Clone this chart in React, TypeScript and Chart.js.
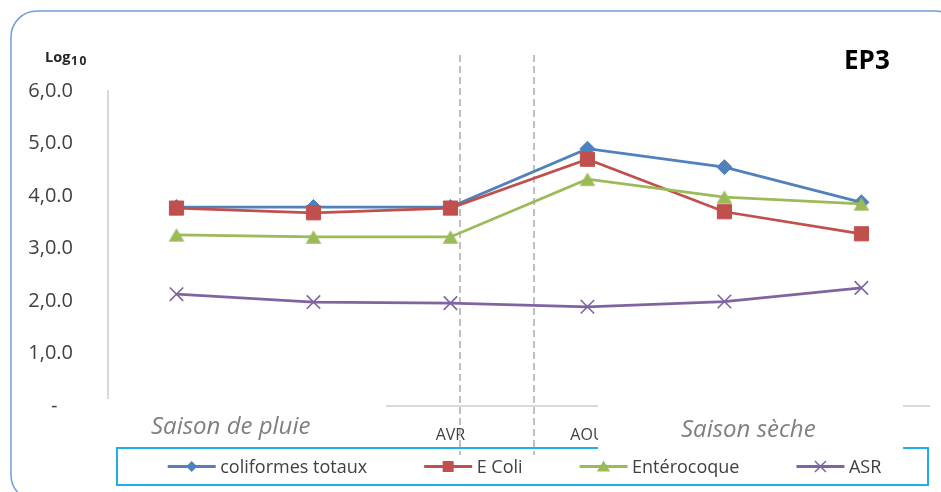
import React, { useEffect, useRef } from 'react';
import { Chart, registerables } from 'chart.js';

Chart.register(...registerables);

// Sampling campaigns (only two of the labels are printed on the axis)
const categories = ['', '', 'AVR', 'AOU', '', ''];

// Log10 counts per indicator
const coliformesTotaux = [3.79, 3.79, 3.79, 4.9, 4.55, 3.88];
const eColi = [3.77, 3.68, 3.77, 4.7, 3.7, 3.28];
const enterocoque = [3.26, 3.22, 3.22, 4.32, 3.98, 3.85];
const asr = [2.13, 1.98, 1.96, 1.89, 1.99, 2.25];

const seriesNames = ['coliformes totaux', 'E Coli', 'Entérocoque', 'ASR'];
const seriesColors = ['#4F81BD', '#C0504D', '#9BBB59', '#8064A2'];
const markerStyles = ['rectRot', 'rect', 'triangle', 'crossRot'];

const seasonLabels = ['Saison de pluie', 'Saison sèche'];
const stationTitle = 'EP3';
const unitLabel = 'Log';
const unitSubscript = '10';

const FONT = "'Open Sans', 'DejaVu Sans', sans-serif";

function drawMarker(
  ctx: CanvasRenderingContext2D,
  style: string,
  x: number,
  y: number,
  color: string,
  s: number
) {
  ctx.save();
  ctx.fillStyle = color;
  ctx.strokeStyle = color;
  ctx.beginPath();
  if (style === 'rectRot') {
    ctx.moveTo(x, y - s);
    ctx.lineTo(x + s, y);
    ctx.lineTo(x, y + s);
    ctx.lineTo(x - s, y);
    ctx.closePath();
    ctx.fill();
  } else if (style === 'rect') {
    ctx.rect(x - s, y - s, 2 * s, 2 * s);
    ctx.fill();
  } else if (style === 'triangle') {
    ctx.moveTo(x, y - s);
    ctx.lineTo(x + s * 1.1, y + s * 0.85);
    ctx.lineTo(x - s * 1.1, y + s * 0.85);
    ctx.closePath();
    ctx.fill();
  } else {
    ctx.lineWidth = 1.5;
    ctx.moveTo(x - s, y - s);
    ctx.lineTo(x + s, y + s);
    ctx.moveTo(x + s, y - s);
    ctx.lineTo(x - s, y + s);
    ctx.stroke();
  }
  ctx.restore();
}

// Triangle marker centred on its bounding box
function makeTriangle(color: string): HTMLCanvasElement {
  const c = document.createElement('canvas');
  c.width = 18;
  c.height = 16;
  const g = c.getContext('2d')!;
  g.fillStyle = color;
  g.beginPath();
  g.moveTo(9, 1.2);
  g.lineTo(16.8, 14.8);
  g.lineTo(1.2, 14.8);
  g.closePath();
  g.fill();
  return c;
}

const decorPlugin = {
  id: 'decor',
  beforeDraw(chart: any) {
    const ctx: CanvasRenderingContext2D = chart.ctx;
    ctx.save();
    ctx.fillStyle = '#FFFFFF';
    ctx.fillRect(0, 0, chart.width, chart.height);
    // rounded outer frame
    ctx.strokeStyle = '#6F9FDB';
    ctx.lineWidth = 1.5;
    ctx.beginPath();
    (ctx as any).roundRect(11, 11, 950, 490, 26);
    ctx.stroke();
    ctx.restore();
  },
  beforeDatasetsDraw(chart: any) {
    const ctx: CanvasRenderingContext2D = chart.ctx;
    ctx.save();
    ctx.strokeStyle = '#BFBFBF';
    ctx.lineWidth = 2;
    ctx.setLineDash([7, 4]);
    for (const x of [460, 534]) {
      ctx.beginPath();
      ctx.moveTo(x, 55);
      ctx.lineTo(x, 455);
      ctx.stroke();
    }
    ctx.restore();
  },
  afterDraw(chart: any) {
    const ctx: CanvasRenderingContext2D = chart.ctx;
    ctx.save();

    // legend frame
    ctx.strokeStyle = '#1FB0EA';
    ctx.lineWidth = 2;
    ctx.strokeRect(117, 448, 811, 37);

    // legend entries
    ctx.font = `18px ${FONT}`;
    ctx.textBaseline = 'alphabetic';
    ctx.textAlign = 'left';
    const lineLen = 48;
    const textGap = 4.5;
    const itemGap = 57;
    const widths = chart.data.datasets.map(
      (d: any) => lineLen + textGap + ctx.measureText(d.label).width
    );
    const total = widths.reduce((a: number, b: number) => a + b, 0) + itemGap * (widths.length - 1);
    let x = 524.5 - total / 2;
    const ly = 466.5;
    chart.data.datasets.forEach((d: any, i: number) => {
      ctx.strokeStyle = d.borderColor;
      ctx.lineWidth = 3;
      ctx.beginPath();
      ctx.moveTo(x, ly);
      ctx.lineTo(x + lineLen, ly);
      ctx.stroke();
      const ms = markerStyles[i];
      drawMarker(ctx, ms, x + lineLen / 2, ly, d.borderColor, ms === 'triangle' ? 6 : 5.5);
      ctx.fillStyle = '#404040';
      ctx.fillText(d.label, x + lineLen + textGap, 473);
      x += widths[i] + itemGap;
    });

    // season text boxes
    ctx.fillStyle = '#FFFFFF';
    ctx.fillRect(62, 399, 324, 47);
    ctx.fillRect(598, 398, 305, 52);
    ctx.fillStyle = '#7F7F7F';
    ctx.font = `italic 24px ${FONT}`;
    ctx.fillText(seasonLabels[0], 151, 434);
    ctx.fillText(seasonLabels[1], 681, 436.5);

    // unit label
    ctx.fillStyle = '#262626';
    ctx.font = `bold 14.5px ${FONT}`;
    ctx.fillText(unitLabel, 45, 62);
    ctx.font = `bold 12px ${FONT}`;
    ctx.fillText(unitSubscript[0], 71, 64.5);
    ctx.fillText(unitSubscript[1], 79.5, 64.5);

    // station title
    ctx.fillStyle = '#000000';
    ctx.font = `bold 26px ${FONT}`;
    ctx.fillText(stationTitle, 844, 69);

    ctx.restore();
  },
};

export default function App() {
  const ref = useRef<HTMLCanvasElement>(null);

  useEffect(() => {
    document.body.style.margin = '0';
    const canvas = ref.current;
    if (!canvas) return;

    const values = [coliformesTotaux, eColi, enterocoque, asr];
    const chart = new Chart(canvas, {
      type: 'line',
      data: {
        labels: categories,
        datasets: values.map((v, i) => ({
          label: seriesNames[i],
          data: v,
          borderColor: seriesColors[i],
          backgroundColor: seriesColors[i],
          pointBackgroundColor: seriesColors[i],
          pointBorderColor: seriesColors[i],
          borderWidth: 2.75,
          tension: 0,
          pointStyle: markerStyles[i] === 'triangle' ? makeTriangle(seriesColors[i]) : markerStyles[i],
          pointRadius: [7.5, 10, 8.8, 9.5][i],
          pointBorderWidth: markerStyles[i] === 'crossRot' ? 1.6 : 1,
          order: 4 - i,
        })) as any,
      },
      options: {
        animation: false,
        responsive: false,
        devicePixelRatio: 1,
        layout: { padding: { top: 91, right: 8, left: 0, bottom: 0 } },
        plugins: {
          legend: { display: false },
          tooltip: { enabled: false },
          title: { display: false },
        },
        scales: {
          x: {
            offset: true,
            grid: { display: false, drawTicks: false },
            border: { color: '#D9D9D9', width: 2 },
            ticks: {
              font: { family: FONT, size: 16 },
              color: '#404040',
              padding: 20,
              maxRotation: 0,
              autoSkip: false,
            },
            afterFit: (s: any) => {
              s.height = 86;
            },
          },
          y: {
            min: 0,
            max: 6,
            grid: { display: false, drawTicks: false },
            border: { color: '#D9D9D9', width: 2 },
            ticks: {
              stepSize: 1,
              padding: 35,
              font: { family: FONT, size: 20 },
              color: '#404040',
              callback: (v: any) => (Number(v) === 0 ? '-   ' : `${v},0.0`),
            },
            afterFit: (s: any) => {
              s.width = 108;
            },
          },
        },
      },
      plugins: [decorPlugin],
    });

    return () => chart.destroy();
  }, []);

  return (
    <div style={{ position: 'absolute', left: 0, top: 0, width: 941, height: 492 }}>
      <canvas ref={ref} width={941} height={492} style={{ display: 'block', width: 941, height: 492 }} />
    </div>
  );
}
